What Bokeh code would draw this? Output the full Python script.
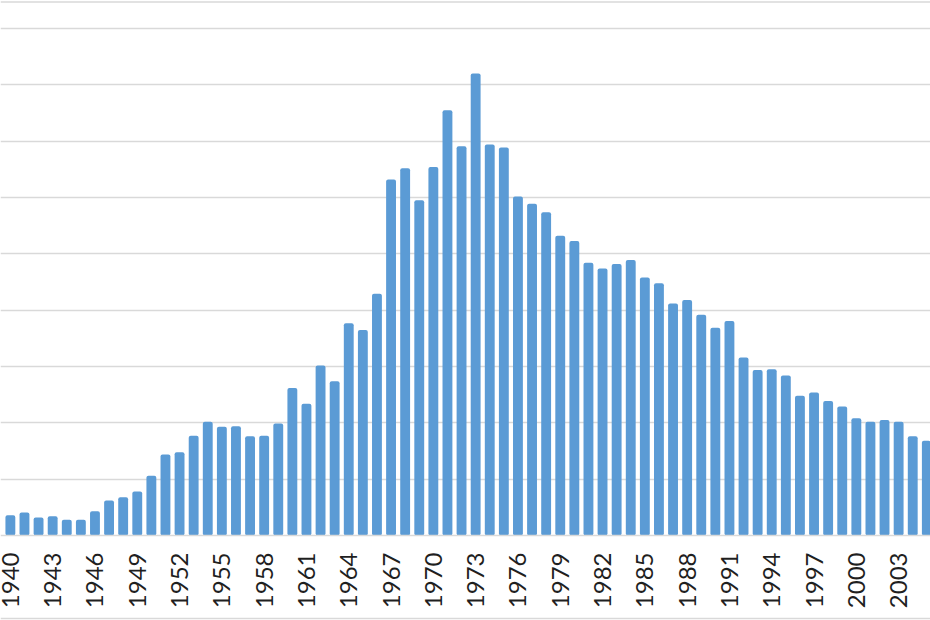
import math
from bokeh.plotting import figure
from bokeh.models import FixedTicker, Range1d, ColumnDataSource, Span
from bokeh.embed import file_html
from bokeh.resources import INLINE

years = list(range(1940, 2006))
values = [
    0.36, 0.41, 0.32, 0.34, 0.28, 0.28, 0.43, 0.62, 0.68, 0.78,
    1.06, 1.44, 1.48, 1.77, 2.02, 1.93, 1.94, 1.76, 1.77, 1.99,
    2.62, 2.34, 3.02, 2.74, 3.77, 3.65, 4.29, 6.32, 6.52, 5.95,
    6.54, 7.55, 6.91, 8.20, 6.94, 6.89, 6.02, 5.89, 5.74, 5.32,
    5.23, 4.84, 4.74, 4.82, 4.89, 4.58, 4.48, 4.12, 4.18, 3.92,
    3.69, 3.81, 3.16, 2.94, 2.95, 2.84, 2.48, 2.54, 2.39, 2.29,
    2.08, 2.02, 2.05, 2.02, 1.76, 1.68,
]
tick_years = [1940, 1943, 1946, 1949, 1952, 1955, 1958, 1961, 1964, 1967,
              1970, 1973, 1976, 1979, 1982, 1985, 1988, 1991, 1994, 1997,
              2000, 2003]
tick_labels = [str(y) for y in tick_years]
grid_levels = [1, 2, 3, 4, 5, 6, 7, 8, 9]

src = ColumnDataSource(dict(x=years, top=values))

p = figure(width=930, height=620, output_backend="svg", toolbar_location=None,
           x_range=Range1d(1939.30, 2005.26), y_range=Range1d(-1.509, 9.498),
           min_border_left=0, min_border_right=0, min_border_top=0,
           min_border_bottom=0)
p.outline_line_color = None
p.background_fill_color = "white"
p.border_fill_color = "white"

p.vbar(x="x", top="top", width=0.7, bottom=0, source=src,
       fill_color="#5B9BD5", line_color=None, border_radius=2)

# chart-area border lines (top and bottom)
p.add_layout(Span(location=9.471, dimension="width", line_color="#d9d9d9", line_width=1.5))
p.add_layout(Span(location=-1.473, dimension="width", line_color="#d9d9d9", line_width=1.5))

p.yaxis.visible = False
p.ygrid.ticker = FixedTicker(ticks=grid_levels)
p.ygrid.grid_line_color = "#d9d9d9"
p.ygrid.grid_line_width = 1.5
p.xgrid.grid_line_color = None

ax = p.xaxis[0]
ax.fixed_location = 0
ax.ticker = FixedTicker(ticks=tick_years)
ax.major_label_overrides = {y: l for y, l in zip(tick_years, tick_labels)}
ax.major_label_orientation = math.pi / 2
ax.major_label_text_font = "Lato"
ax.major_label_text_font_size = "24px"
ax.major_label_text_color = "#1f1f1f"
ax.major_label_standoff = 17
ax.major_tick_line_color = None
ax.minor_tick_line_color = None
ax.major_tick_out = 0
ax.major_tick_in = 0
ax.axis_line_color = "#d9d9d9"
ax.axis_line_width = 1.5

open("out.html", "w").write(file_html(p, INLINE))
